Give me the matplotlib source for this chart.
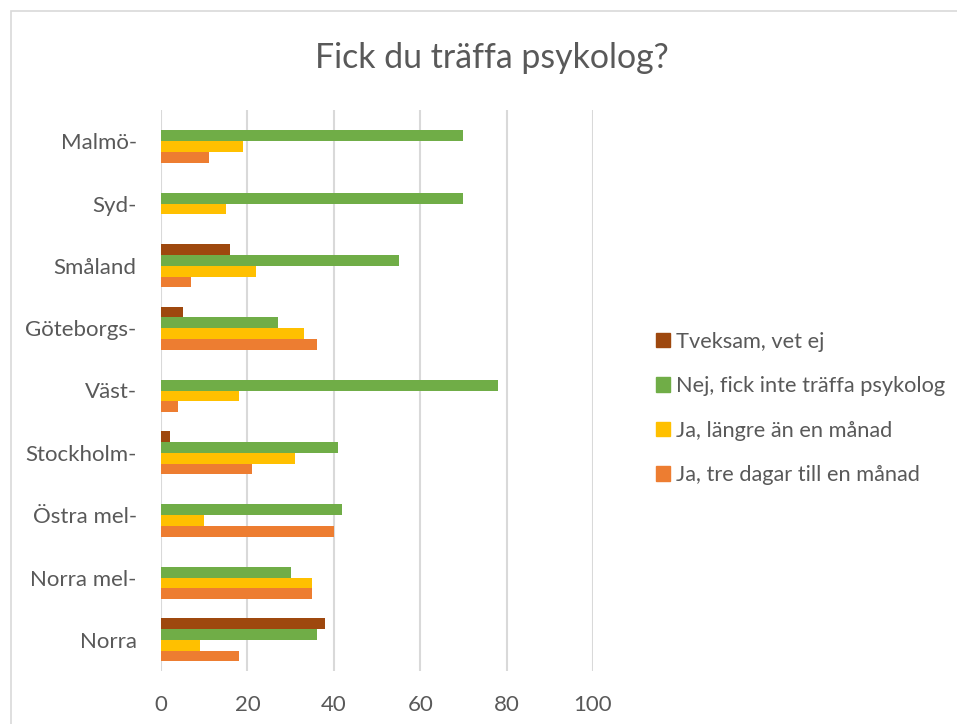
import numpy as np
import matplotlib.pyplot as plt
from matplotlib.patches import Patch, Rectangle

plt.rcParams['font.family'] = ['Lato', 'DejaVu Sans']

# regions, top to bottom as shown
regions = ['Malmö-', 'Syd-', 'Småland', 'Göteborgs-', 'Väst-',
           'Stockholm-', 'Östra mel-', 'Norra mel-', 'Norra']

tveksam = [0, 0, 16, 5, 0, 2, 0, 0, 38]
nej = [70, 70, 55, 27, 78, 41, 42, 30, 36]
ja_langre = [19, 15, 22, 33, 18, 31, 10, 35, 9]
ja_tre = [11, 0, 7, 36, 4, 21, 40, 35, 18]

series = [
    ('Ja, tre dagar till en månad', ja_tre, '#ED7D31'),
    ('Ja, längre än en månad', ja_langre, '#FFC000'),
    ('Nej, fick inte träffa psykolog', nej, '#70AD47'),
    ('Tveksam, vet ej', tveksam, '#9E480E'),
]

txt = '#595959'
W, H = 957, 724
fig = plt.figure(figsize=(W / 100, H / 100), dpi=100)

# chart border like excel
fig.patches.append(Rectangle((11 / W, -0.1), 1.2, 1 - 11 / H + 0.1,
                             transform=fig.transFigure, fill=False,
                             edgecolor='#D9D9D9', lw=1.2))

ax = fig.add_axes([161 / W, 53 / H, (593 - 161) / W, (671 - 110) / H])

n = len(regions)
y = np.arange(n)[::-1]
h = 0.172
for k, (name, vals, col) in enumerate(series):
    ax.barh(y + (k - 1.5) * h, vals, height=h, color=col, label=name)

ax.set_xlim(0, 100)
ax.set_ylim(-0.5, n - 0.5)
ax.set_xticks([0, 20, 40, 60, 80, 100])
ax.set_yticks(y)
ax.set_yticklabels(regions)
ax.tick_params(axis='both', length=0, labelsize=16, colors=txt)
ax.tick_params(axis='y', pad=17.5)
ax.tick_params(axis='x', pad=17)
ax.grid(axis='x', color='#D9D9D9', lw=1.5)
ax.set_axisbelow(True)
for s in ax.spines.values():
    s.set_visible(False)

fig.text(492 / W, 1 - 58 / H, 'Fick du träffa psykolog?', ha='center', va='center',
         fontsize=24.4, color=txt)

handles = [Patch(color=c) for _, _, c in series][::-1]
labels = [nm for nm, _, _ in series][::-1]
leg = fig.legend(handles, labels, loc='upper left', bbox_to_anchor=(647 / W, 1 - 323 / H),
                 frameon=False, fontsize=15.7, handlelength=0.64, handleheight=0.64,
                 handletextpad=0.3, labelspacing=1.12, borderaxespad=0)
for t in leg.get_texts():
    t.set_color(txt)

fig.savefig('out.png', dpi=100)
